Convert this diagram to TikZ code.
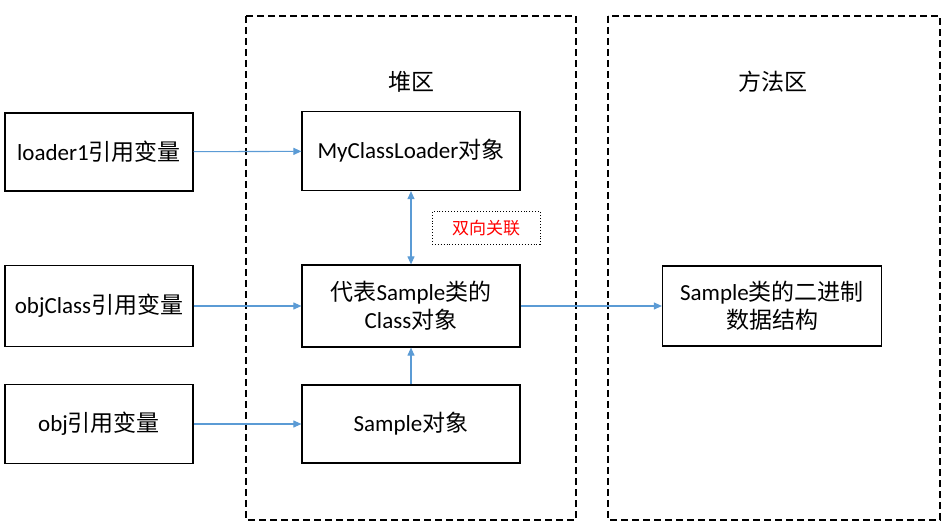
\documentclass[tikz,border=0pt]{standalone}
\usepackage{fontspec}
\setmainfont{Carlito}
\newfontfamily\cjk{Noto Sans CJK SC}
\usetikzlibrary{arrows.meta}
\definecolor{ablue}{HTML}{5B9BD5}
\begin{document}
\begin{tikzpicture}[x=1pt,y=-1pt,
  box/.style={draw=black,line width=1.2pt,fill=white,minimum width=#1,align=center,inner sep=0pt,font=\fontsize{23}{28}\selectfont},
  box/.default=188,
  area/.style={draw=black,line width=1.2pt,dash pattern=on 7pt off 4pt},
  arr/.style={draw=ablue,line width=1.1pt,-{Triangle[length=8pt,width=7pt]}},
  lbl/.style={font=\fontsize{23}{28}\selectfont}]
\useasboundingbox (0,0) rectangle (951,526);
\draw[area] (246,16) rectangle (576,520);
\draw[area] (608,16) rectangle (940,520);
\node[lbl] (heap) at (411,82) {\cjk 堆区};
\node[lbl] (meth) at (773,82) {\cjk 方法区};
\node[box,minimum height=78] (l1) at (99,152) {loader1{\cjk 引用变量}};
\node[box,minimum height=81] (oc) at (99,306) {objClass{\cjk 引用变量}};
\node[box,minimum height=79] (ob) at (99,424) {obj{\cjk 引用变量}};
\node[box=218,minimum height=79] (mcl) at (411,151) {MyClassLoader{\cjk 对象}};
\node[box=218,minimum height=82] (cls) at (411,306) {{\cjk 代表}Sample{\cjk 类的}\\Class{\cjk 对象}};
\node[box=218,minimum height=78] (smp) at (411,424) {Sample{\cjk 对象}};
\node[box=219,minimum height=80] (bin) at (772,306) {Sample{\cjk 类的二进制}\\{\cjk 数据结构}};
\node[draw=black,dotted,line width=0.9pt,minimum width=108,minimum height=33,text=red,font=\fontsize{17}{20}\selectfont\cjk] (bi) at (486,228) {双向关联};
\draw[arr] (l1) -- (mcl);
\draw[arr] (oc) -- (cls);
\draw[arr] (ob) -- (smp);
\draw[arr] (cls) -- (bin);
\draw[arr] (smp) -- (cls);
\draw[arr,{Triangle[length=8pt,width=7pt]}-{Triangle[length=8pt,width=7pt]}] (mcl) -- (cls);
\end{tikzpicture}
\end{document}
